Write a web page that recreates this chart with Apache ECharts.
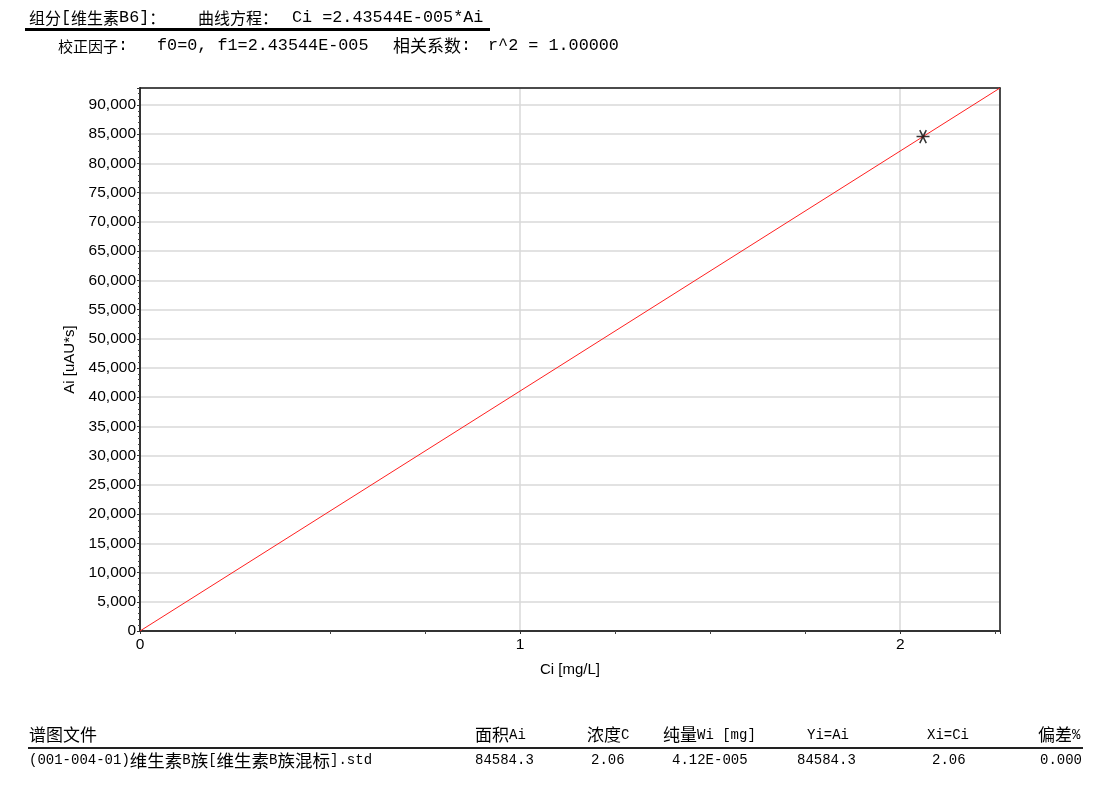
<!DOCTYPE html>
<html>
<head>
<meta charset="utf-8">
<script src="https://cdn.jsdelivr.net/npm/echarts@6/dist/echarts.min.js"></script>
<style>
html,body{margin:0;padding:0;background:#fff;}
#chart{width:1106px;height:785px;}
</style>
</head>
<body>
<div id="chart"></div>
<script>
// ---- data ----
const titleComponent = '组分[维生素B6]：';
const titleEqLabel = '曲线方程：';
const titleEquation = 'Ci =2.43544E-005*Ai';
const factorLabel = '校正因子:';
const factorText = 'f0=0, f1=2.43544E-005';
const corrLabel = '相关系数:';
const corrText = 'r^2 = 1.00000';

const xAxisName = 'Ci [mg/L]';
const yAxisName = 'Ai [uAU*s]';
const xRange = [0, 2.2625];
const yRange = [0, 92900];
const xStep = 1;
const yStep = 5000;

// calibration line endpoints (Ci, Ai) and standard points
const curveCi = [0, 2.2625];
const curveAi = [0, 92900];
const stdCi = [2.06];
const stdAi = [84584.3];

const tableHeaders = ['谱图文件', '面积Ai', '浓度C', '纯量Wi [mg]', 'Yi=Ai', 'Xi=Ci', '偏差%'];
const tableRow = ['(001-004-01)维生素B族[维生素B族混标].std', '84584.3', '2.06', '4.12E-005', '84584.3', '2.06', '0.000'];

// ---- helpers ----
function rt(s) {
  let out = '', cur = null, buf = '';
  for (const ch of s) {
    const t = /[\u2E80-\uFFEF]/.test(ch) ? 'c' : 'm';
    if (t !== cur) {
      if (buf) out += '{' + cur + '|' + buf + '}';
      buf = ''; cur = t;
    }
    buf += ch;
  }
  if (buf) out += '{' + cur + '|' + buf + '}';
  return out;
}
function richStyle(cSize, mSize) {
  return {
    c: { fontFamily: 'Noto Sans CJK SC', fontSize: cSize, fill: '#000', verticalAlign: 'middle' },
    m: { fontFamily: 'Liberation Mono', fontSize: mSize, fill: '#000', verticalAlign: 'middle' }
  };
}
function txt(s, x, y, cSize, mSize) {
  return {
    type: 'text', x: x, y: y, silent: true,
    style: { text: rt(s), rich: richStyle(cSize, mSize), verticalAlign: 'middle', align: 'left' }
  };
}

const headerX = [29, 475, 587, 663, 807, 927, 1038];
const rowX = [29, 475, 591, 672, 797, 932, 1040];

const graphics = [
  txt(titleComponent, 29, 18, 16, 16.8),
  txt(titleEqLabel, 198, 18, 16, 16.8),
  txt(titleEquation, 292, 18, 16, 16.8),
  { type: 'rect', shape: { x: 25, y: 28, width: 465, height: 3 }, style: { fill: '#000' }, silent: true },
  txt(factorLabel, 58, 46, 15, 16.8),
  txt(factorText, 157, 46, 16, 16.8),
  txt(corrLabel, 393, 46, 17, 16.8),
  txt(corrText, 488, 46, 16, 16.8),
  { type: 'rect', shape: { x: 28, y: 747, width: 1055, height: 2 }, style: { fill: '#222' }, silent: true }
];
tableHeaders.forEach((h, i) => graphics.push(txt(h, headerX[i], 735, 17, 14)));
tableRow.forEach((v, i) => graphics.push(txt(v, rowX[i], 760, 17.5, 14)));

const frameAxis = {
  type: 'value',
  axisLine: { show: true, onZero: false, lineStyle: { color: '#1a1a1a', width: 1.5 } },
  axisTick: { show: false }, axisLabel: { show: false }, splitLine: { show: false }
};

const chart = echarts.init(document.getElementById('chart'), null, { renderer: 'canvas' });
chart.setOption({
  animation: false,
  backgroundColor: '#fff',
  graphic: graphics,
  grid: {
    left: 140, top: 88, right: 106, bottom: 154,
    show: false
  },
  xAxis: [{
    type: 'value',
    min: xRange[0], max: xRange[1], interval: xStep,
    name: xAxisName, nameLocation: 'middle', nameGap: 31,
    nameTextStyle: { fontFamily: 'Liberation Sans', fontSize: 15, color: '#000' },
    axisLine: { show: true, onZero: false, lineStyle: { color: '#333', width: 2 } },
    axisTick: { show: true, length: 3, inside: false, lineStyle: { color: '#333' } },
    minorTick: { show: true, splitNumber: 4, length: 3, lineStyle: { color: '#444' } },
    axisLabel: { fontFamily: 'Liberation Sans', fontSize: 15.5, color: '#000', margin: 6, showMaxLabel: false },
    splitLine: { show: true, lineStyle: { color: '#d9d9d9', width: 1.5 } }
  }, Object.assign({ position: 'top', min: xRange[0], max: xRange[1] }, frameAxis)],
  yAxis: [{
    type: 'value',
    min: yRange[0], max: yRange[1], interval: yStep,
    name: yAxisName, nameLocation: 'middle', nameGap: 60, nameRotate: 90,
    nameTextStyle: { fontFamily: 'Liberation Sans', fontSize: 15, color: '#000' },
    axisLine: { show: true, onZero: false, lineStyle: { color: '#333', width: 2 } },
    axisTick: { show: true, length: 3, lineStyle: { color: '#333' } },
    minorTick: { show: true, splitNumber: 5, length: 2, lineStyle: { color: '#444' } },
    axisLabel: {
      fontFamily: 'Liberation Sans', fontSize: 15.5, color: '#000', margin: 4, showMaxLabel: false,
      formatter: v => v.toLocaleString('en-US')
    },
    splitLine: { show: true, lineStyle: { color: '#d9d9d9', width: 1.5 } }
  }, Object.assign({ position: 'right', min: yRange[0], max: yRange[1] }, frameAxis)],
  series: [
    {
      type: 'line',
      data: curveCi.map((c, i) => [c, curveAi[i]]),
      showSymbol: false, symbol: 'none',
      lineStyle: { color: '#ff2020', width: 1 },
      silent: true, z: 3
    },
    {
      type: 'scatter',
      data: stdCi.map((c, i) => [c, stdAi[i]]),
      symbol: 'path://M-6,0L6,0M-3,-5.2L3,5.2M-3,5.2L3,-5.2',
      symbolSize: 13,
      itemStyle: { color: 'none', borderColor: '#000', borderWidth: 1.5 },
      silent: true, z: 4
    }
  ]
});
</script>
</body>
</html>
